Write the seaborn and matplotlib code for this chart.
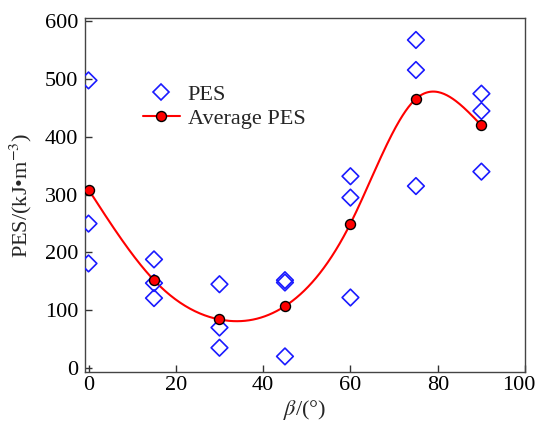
import numpy as np
import pandas as pd
import matplotlib
matplotlib.use("Agg")
import matplotlib.pyplot as plt
import matplotlib.transforms as mtransforms
from matplotlib.lines import Line2D
import seaborn as sns

# ---- data ----
angles = [0, 15, 30, 45, 60, 75, 90]
pes_a = [498, 188, 145, 152, 332, 568, 475]
pes_b = [250, 147, 70, 148, 295, 516, 445]
pes_c = [181, 121, 35, 20, 122, 315, 340]
avg_pes = [309, 152, 84, 107, 250, 466, 420]
x_ticks = [0, 20, 40, 60, 80, 100]
y_ticks = [0, 100, 200, 300, 400, 500, 600]

sns.set_theme(style="ticks")
plt.rcParams["font.family"] = ["Liberation Serif", "DejaVu Serif"]
plt.rcParams["mathtext.fontset"] = "stix"

FS = 16


def natural_spline(x, y, xs):
    x = np.asarray(x, float)
    y = np.asarray(y, float)
    n = len(x)
    h = np.diff(x)
    A = np.zeros((n, n))
    b = np.zeros(n)
    A[0, 0] = A[-1, -1] = 1
    for i in range(1, n - 1):
        A[i, i - 1] = h[i - 1]
        A[i, i] = 2 * (h[i - 1] + h[i])
        A[i, i + 1] = h[i]
        b[i] = 6 * ((y[i + 1] - y[i]) / h[i] - (y[i] - y[i - 1]) / h[i - 1])
    M = np.linalg.solve(A, b)
    out = np.empty_like(xs)
    for k, xv in enumerate(xs):
        i = min(np.searchsorted(x, xv, side="right") - 1, n - 2)
        i = max(i, 0)
        t1 = x[i + 1] - xv
        t0 = xv - x[i]
        out[k] = (M[i] * t1 ** 3 + M[i + 1] * t0 ** 3) / (6 * h[i]) \
            + (y[i] / h[i] - M[i] * h[i] / 6) * t1 \
            + (y[i + 1] / h[i] - M[i + 1] * h[i] / 6) * t0
    return out


scatter_df = pd.DataFrame({
    "beta": angles * 3,
    "pes": pes_a + pes_b + pes_c,
})
avg_df = pd.DataFrame({"beta": angles, "pes": avg_pes})
xs = np.linspace(angles[0], angles[-1], 400)
curve_df = pd.DataFrame({"beta": xs, "pes": natural_spline(angles, avg_pes, xs)})

fig = plt.figure(figsize=(5.36, 4.25), dpi=100)
ax = fig.add_axes([0.1586, 0.1247, 0.821, 0.8329])

blue = "#1a1aff"
sns.scatterplot(data=scatter_df, x="beta", y="pes", ax=ax, marker="D",
                s=72, facecolors="none", edgecolor=blue, linewidth=1.2,
                legend=False, zorder=3)
sns.lineplot(data=curve_df, x="beta", y="pes", ax=ax, color="#ff0000",
             linewidth=1.5, legend=False, zorder=2)
sns.scatterplot(data=avg_df, x="beta", y="pes", ax=ax, marker="o", s=52,
                color="#ff0000", edgecolor="black", linewidth=1.0,
                legend=False, zorder=4)

ax.set_xlim(-0.8, 99.8)
ax.set_ylim(-7, 606)
ax.set_xticks(x_ticks)
ax.set_yticks(y_ticks)
ax.tick_params(direction="in", length=5, width=1, labelsize=FS,
               colors="#333333", labelcolor="black", top=False, right=False)
ax.tick_params(axis="y", pad=5)
ax.tick_params(axis="x", pad=3)
for sp in ax.spines.values():
    sp.set_color("#444444")
    sp.set_linewidth(1.0)

# last x tick label is nudged left so it stays inside the figure, as in the reference
fig.canvas.draw()
last = ax.get_xticklabels()[-1]
last.set_transform(last.get_transform() +
                   mtransforms.ScaledTranslation(-6 / 100, 0, fig.dpi_scale_trans))

ax.set_xlabel(r"$\it{\beta}$/(°)", fontsize=FS, labelpad=2)
ax.set_ylabel(r"PES/(kJ•m$^{-3}$)", fontsize=FS)
ax.yaxis.set_label_coords(-0.116, 0.5)

handles = [
    Line2D([], [], linestyle="none", marker="D", markersize=8.5,
           markerfacecolor="none", markeredgecolor=blue, markeredgewidth=1.2),
    Line2D([], [], color="#ff0000", linewidth=1.5, marker="o", markersize=7.2,
           markerfacecolor="#ff0000", markeredgecolor="black"),
]
fig.legend(handles, ["PES", "Average PES"], loc="upper left",
           bbox_to_anchor=(143 / 536, 1 - 84 / 425), frameon=False,
           fontsize=FS, handlelength=1.65, handletextpad=0.36,
           labelspacing=0.17, borderpad=0, borderaxespad=0)

fig.savefig("out.png", dpi=100)
